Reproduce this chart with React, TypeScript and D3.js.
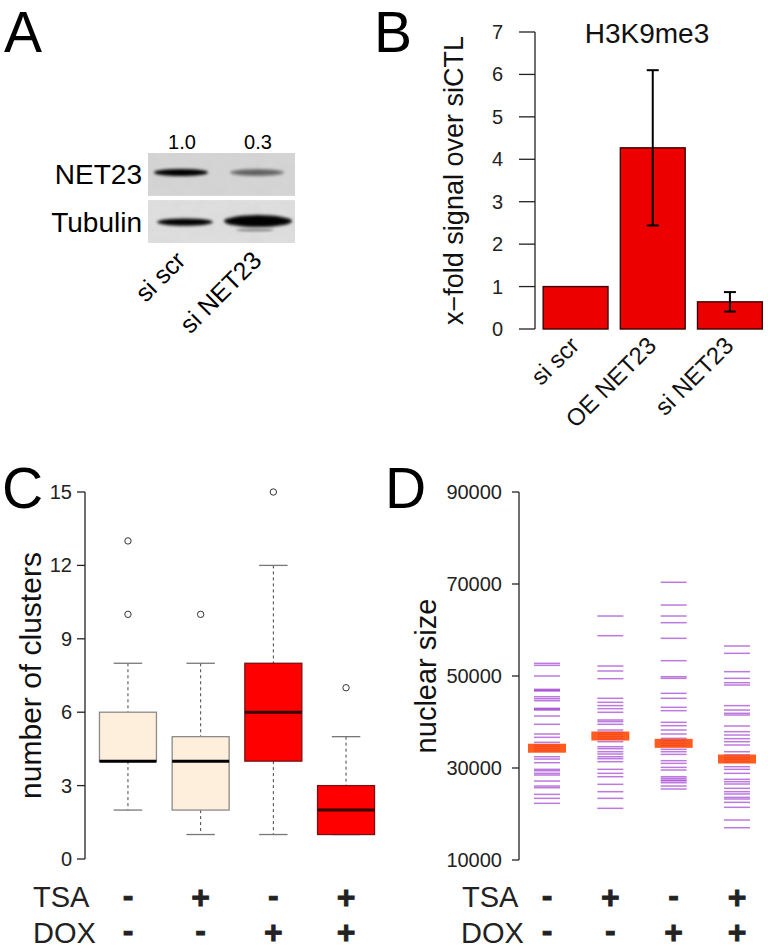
import React from "react";
import * as d3 from "d3";

// ---------- Panel A data ----------
const blotLanes = ["si scr", "si NET23"];
const net23Ratio = [1.0, 0.3];
const net23BandIntensity = [1.0, 0.35];
const tubulinBandIntensity = [1.0, 1.6];
const blotRows = ["NET23", "Tubulin"];

// ---------- Panel B data ----------
const bCategories = ["si scr", "OE NET23", "si NET23"];
const bValues = [1.0, 4.27, 0.64];
const bErrors = [0, 1.83, 0.23];
const bTicks = [0, 1, 2, 3, 4, 5, 6, 7];
const bTitle = "H3K9me3";

// ---------- Panel C data ----------
const cGroups = ["g1", "g2", "g3", "g4"];
const cWhiskerLow = [2, 1, 1, 1];
const cQ1 = [4, 2, 4, 1];
const cMedian = [4, 4, 6, 2];
const cQ3 = [6, 5, 8, 3];
const cWhiskerHigh = [8, 8, 12, 5];
const cOutliers = [[10, 13], [10], [15], [7]];
const cFills = ["#feefdc", "#feefdc", "#ff0000", "#ff0000"];
const cTicks = [0, 3, 6, 9, 12, 15];

// ---------- Panel D data ----------
const dGroup1 = [52750, 52315, 50000, 47100, 46900, 46736, 45500, 45065, 44630, 42970, 42800, 42600, 41300, 39500, 37390, 36670, 35580, 35000, 34630, 34200, 33760, 32450, 31950, 31150, 29710, 29400, 28840, 28470, 27170, 26080, 25720, 24270, 23400, 22320];
const dGroup2 = [63040, 58760, 52170, 51090, 49420, 45150, 44280, 43560, 42900, 42110, 40440, 40080, 39500, 38260, 37750, 37320, 36800, 36300, 35720, 34630, 34200, 33540, 33040, 32450, 32020, 31370, 29710, 28840, 28110, 26450, 24850, 23400, 21230];
const dGroup3 = [70370, 65430, 63040, 61590, 58190, 53330, 49850, 49490, 46230, 45150, 43190, 42460, 39930, 39200, 38260, 37390, 36450, 35940, 35360, 34850, 34060, 33540, 32960, 31590, 31010, 30140, 29560, 28110, 27750, 27380, 27200, 26800, 26080, 25430];
const dGroup4 = [56520, 54930, 50940, 49490, 48540, 48040, 43560, 42600, 41890, 41520, 39130, 37900, 37170, 36380, 35720, 35000, 33540, 32820, 32240, 31880, 31370, 30280, 29710, 28840, 27540, 27020, 26520, 25580, 24850, 24350, 23620, 23260, 22540, 21450, 18690, 17020];
const dSeries = [dGroup1, dGroup2, dGroup3, dGroup4];
const dCenters = [34300, 36950, 35360, 31950];
const dTicks = [10000, 30000, 50000, 70000, 90000];

// ---------- Shared condition labels ----------
const tsaSigns = ["-", "+", "-", "+"];
const doxSigns = ["-", "-", "+", "+"];

const FONT = "'Liberation Sans', Arial, Helvetica, sans-serif";

export default function App() {
  // ----- Panel A scales -----
  const xA = d3.scalePoint<string>().domain(blotLanes).range([182, 258]);
  const blotX0 = 148, blotX1 = 295;
  const rowY = d3.scaleBand<string>().domain(blotRows).range([153, 243]).paddingInner(0.09);

  // ----- Panel B scales -----
  const yB = d3.scaleLinear().domain([0, 7]).range([329, 32]);
  const xB = d3.scaleBand<string>().domain(bCategories).range([537, 768.5]).paddingInner(0.16).paddingOuter(0.08);
  const bAxisX = 535;

  // ----- Panel C scales -----
  const yC = d3.scaleLinear().domain([0, 15]).range([859, 492]);
  const xC = d3.scaleBand<string>().domain(cGroups).range([92.2, 381.8]).paddingInner(0.216).paddingOuter(0.1);
  const cAxisX = 85;

  // ----- Panel D scales -----
  const yD = d3.scaleLinear().domain([10000, 90000]).range([860, 492]);
  const xD = d3.scalePoint<string>().domain(cGroups).range([547, 737]);
  const dAxisX = 519;

  const signRows = (xs: number[]) => (
    <g fontFamily={FONT}>
      {tsaSigns.map((s, i) => (
        <text key={"t" + i} x={xs[i]} y={s === "+" ? 908 : 906} textAnchor="middle" fontSize={32} fontWeight="bold" fill="#222" stroke="#222" strokeWidth={0.8}>{s}</text>
      ))}
      {doxSigns.map((s, i) => (
        <text key={"d" + i} x={xs[i]} y={s === "+" ? 943 : 941} textAnchor="middle" fontSize={32} fontWeight="bold" fill="#222" stroke="#222" strokeWidth={0.8}>{s}</text>
      ))}
    </g>
  );

  const cCenters = cGroups.map((g) => (xC(g) as number) + xC.bandwidth() / 2);
  const dXs = cGroups.map((g) => xD(g) as number);

  return (
    <svg width={768} height={950} style={{ position: "absolute", left: 0, top: 0, background: "#fff" }} fontFamily={FONT}>
      <defs>
        <filter id="blur2" x="-50%" y="-200%" width="200%" height="500%">
          <feGaussianBlur stdDeviation="1.6" />
        </filter>
        <filter id="blur1" x="-50%" y="-200%" width="200%" height="500%">
          <feGaussianBlur stdDeviation="1" />
        </filter>
        <filter id="noise" x="0" y="0" width="100%" height="100%">
          <feTurbulence type="fractalNoise" baseFrequency="0.08" numOctaves="2" seed="3" result="n" />
          <feColorMatrix in="n" type="matrix" values="0 0 0 0 0.5  0 0 0 0 0.5  0 0 0 0 0.5  0 0 0 0.35 0" />
        </filter>
      </defs>
      <rect width={768} height={950} fill="#fff" />

      {/* ================= Panel A ================= */}
      <text x={4} y={52} fontSize={57} fill="#000">A</text>
      {blotRows.map((r, ri) => (
        <g key={r}>
          <rect x={blotX0} y={rowY(r)} width={blotX1 - blotX0} height={rowY.bandwidth()} fill={ri === 0 ? "#d6d6d6" : "#e0e0e0"} />
          <rect x={blotX0} y={rowY(r)} width={blotX1 - blotX0} height={rowY.bandwidth()} filter="url(#noise)" opacity={0.5} />
          <text x={142} y={(rowY(r) as number) + rowY.bandwidth() / 2 + 10} textAnchor="end" fontSize={28} fill="#000">{r}</text>
        </g>
      ))}
      {/* NET23 bands */}
      {blotLanes.map((l, i) => {
        const cy = (rowY("NET23") as number) + 19.5;
        const k = net23BandIntensity[i];
        return (
          <g key={"nb" + l} filter="url(#blur2)">
            <ellipse cx={(xA(l) as number) - 1} cy={cy} rx={27} ry={3.6} fill="#000" opacity={Math.min(1, 0.95 * k + 0.1)} />
            <ellipse cx={(xA(l) as number) - 1} cy={cy} rx={22} ry={2.2} fill="#000" opacity={Math.min(1, 0.6 * k)} />
          </g>
        );
      })}
      {/* Tubulin bands */}
      {blotLanes.map((l, i) => {
        const cy = (rowY("Tubulin") as number) + 22;
        const k = tubulinBandIntensity[i];
        const cx = (xA(l) as number) + (i === 0 ? 3 : 0);
        return (
          <g key={"tb" + l}>
            <g filter="url(#blur2)">
              <ellipse cx={cx} cy={cy - (k > 1 ? 1 : 0)} rx={28 + (k - 1) * 10} ry={3.6 + (k - 1) * 4} fill="#000" opacity={0.95} />
              <ellipse cx={cx} cy={cy - (k > 1 ? 1 : 0)} rx={24 + (k - 1) * 8} ry={2.5 + (k - 1) * 3} fill="#000" opacity={0.8} />
            </g>
            {k > 1 && (
              <ellipse cx={cx - 3} cy={cy + 8} rx={19} ry={1.5} fill="#000" opacity={0.35} filter="url(#blur1)" />
            )}
          </g>
        );
      })}
      {blotLanes.map((l, i) => (
        <text key={"ratio" + l} x={xA(l)} y={149} textAnchor="middle" fontSize={20} fill="#000">{net23Ratio[i].toFixed(1)}</text>
      ))}
      {blotLanes.map((l) => (
        <text key={"lane" + l} transform={`translate(${(xA(l) as number) + 5},262) rotate(-45)`} textAnchor="end" fontSize={25} fill="#000">{l}</text>
      ))}

      {/* ================= Panel B ================= */}
      <text x={374} y={52} fontSize={57} fill="#000">B</text>
      <line x1={bAxisX} x2={bAxisX} y1={yB(7)} y2={yB(0)} stroke="#222" strokeWidth={1.3} />
      {bTicks.map((t) => (
        <g key={"bt" + t}>
          <line x1={bAxisX - 16} x2={bAxisX} y1={yB(t)} y2={yB(t)} stroke="#222" strokeWidth={1.3} />
          <text x={503} y={yB(t) + 7} textAnchor="end" fontSize={20} fill="#222">{t}</text>
        </g>
      ))}
      <text transform={`translate(463,${(yB(0) + yB(7)) / 2}) rotate(-90)`} textAnchor="middle" fontSize={27} fill="#111">x−fold signal over siCTL</text>
      <text x={647} y={43} textAnchor="middle" fontSize={28} fill="#111">{bTitle}</text>
      {bCategories.map((c, i) => {
        const x0 = xB(c) as number;
        const w = xB.bandwidth();
        const cx = x0 + w / 2;
        return (
          <g key={"bb" + c}>
            <rect x={x0} y={yB(bValues[i])} width={w} height={yB(0) - yB(bValues[i])} fill="#ec0000" stroke="#3a0000" strokeWidth={1.4} />
            {bErrors[i] > 0 && (
              <g stroke="#000" strokeWidth={2}>
                <line x1={cx} x2={cx} y1={yB(bValues[i] + bErrors[i])} y2={yB(bValues[i] - bErrors[i])} />
                <line x1={cx - 6} x2={cx + 6} y1={yB(bValues[i] + bErrors[i])} y2={yB(bValues[i] + bErrors[i])} />
                <line x1={cx - 6} x2={cx + 6} y1={yB(bValues[i] - bErrors[i])} y2={yB(bValues[i] - bErrors[i])} />
              </g>
            )}
            <text transform={`translate(${cx + 5},347) rotate(-45)`} textAnchor="end" fontSize={24} fill="#111">{c}</text>
          </g>
        );
      })}

      {/* ================= Panel C ================= */}
      <text x={2} y={508} fontSize={57} fill="#000">C</text>
      <line x1={cAxisX} x2={cAxisX} y1={yC(15)} y2={yC(0)} stroke="#222" strokeWidth={1.3} />
      {cTicks.map((t) => (
        <g key={"ct" + t}>
          <line x1={cAxisX - 8} x2={cAxisX} y1={yC(t)} y2={yC(t)} stroke="#222" strokeWidth={1.3} />
          <text x={72} y={yC(t) + 7} textAnchor="end" fontSize={20} fill="#222">{t}</text>
        </g>
      ))}
      <text transform={`translate(41,${(yC(0) + yC(15)) / 2}) rotate(-90)`} textAnchor="middle" fontSize={30} fill="#111">number of clusters</text>
      {cGroups.map((g, i) => {
        const x0 = xC(g) as number;
        const w = xC.bandwidth();
        const cx = x0 + w / 2;
        const light = i < 2;
        return (
          <g key={"cb" + g}>
            <line x1={cx} x2={cx} y1={yC(cWhiskerHigh[i])} y2={yC(cQ3[i])} stroke="#444" strokeWidth={1} strokeDasharray="3,3" />
            <line x1={cx} x2={cx} y1={yC(cQ1[i])} y2={yC(cWhiskerLow[i])} stroke="#444" strokeWidth={1} strokeDasharray="3,3" />
            <line x1={cx - w / 4} x2={cx + w / 4} y1={yC(cWhiskerHigh[i])} y2={yC(cWhiskerHigh[i])} stroke="#777" strokeWidth={1.3} />
            <line x1={cx - w / 4} x2={cx + w / 4} y1={yC(cWhiskerLow[i])} y2={yC(cWhiskerLow[i])} stroke="#777" strokeWidth={1.3} />
            <rect x={x0} y={yC(cQ3[i])} width={w} height={yC(cQ1[i]) - yC(cQ3[i])} fill={cFills[i]} stroke={light ? "#8a8a8a" : "#7a1010"} strokeWidth={1.3} />
            <line x1={x0} x2={x0 + w} y1={yC(cMedian[i])} y2={yC(cMedian[i])} stroke={light ? "#000" : "#300"} strokeWidth={3} />
            {cOutliers[i].map((o, k) => (
              <circle key={k} cx={cx} cy={yC(o)} r={3.2} fill="none" stroke="#333" strokeWidth={1} />
            ))}
          </g>
        );
      })}
      <text x={33} y={907} fontSize={29} fill="#222">TSA</text>
      <text x={33} y={943} fontSize={29} fill="#222">DOX</text>
      {signRows(cCenters)}

      {/* ================= Panel D ================= */}
      <text x={385} y={508} fontSize={57} fill="#000">D</text>
      <line x1={dAxisX} x2={dAxisX} y1={yD(90000)} y2={yD(10000)} stroke="#222" strokeWidth={1.3} />
      {dTicks.map((t) => (
        <g key={"dt" + t}>
          <line x1={dAxisX - 7} x2={dAxisX} y1={yD(t)} y2={yD(t)} stroke="#222" strokeWidth={1.3} />
          <text x={502} y={yD(t) + 7} textAnchor="end" fontSize={20} fill="#222">{t}</text>
        </g>
      ))}
      <text transform={`translate(436,${(yD(10000) + yD(90000)) / 2}) rotate(-90)`} textAnchor="middle" fontSize={29} fill="#111">nuclear size</text>
      {cGroups.map((g, i) => {
        const cx = xD(g) as number;
        return (
          <g key={"ds" + g}>
            {dSeries[i].map((v, k) => (
              <line key={k} x1={cx - 13} x2={cx + 13} y1={yD(v)} y2={yD(v)} stroke="rgb(153,50,204)" strokeOpacity={0.65} strokeWidth={1.5} />
            ))}
            <rect x={cx - 19} y={yD(dCenters[i]) - 4.5} width={38} height={9} fill="rgb(255,69,0)" fillOpacity={0.88} />
          </g>
        );
      })}
      <text x={462} y={907} fontSize={29} fill="#222">TSA</text>
      <text x={461} y={943} fontSize={29} fill="#222">DOX</text>
      {signRows(dXs)}
    </svg>
  );
}
